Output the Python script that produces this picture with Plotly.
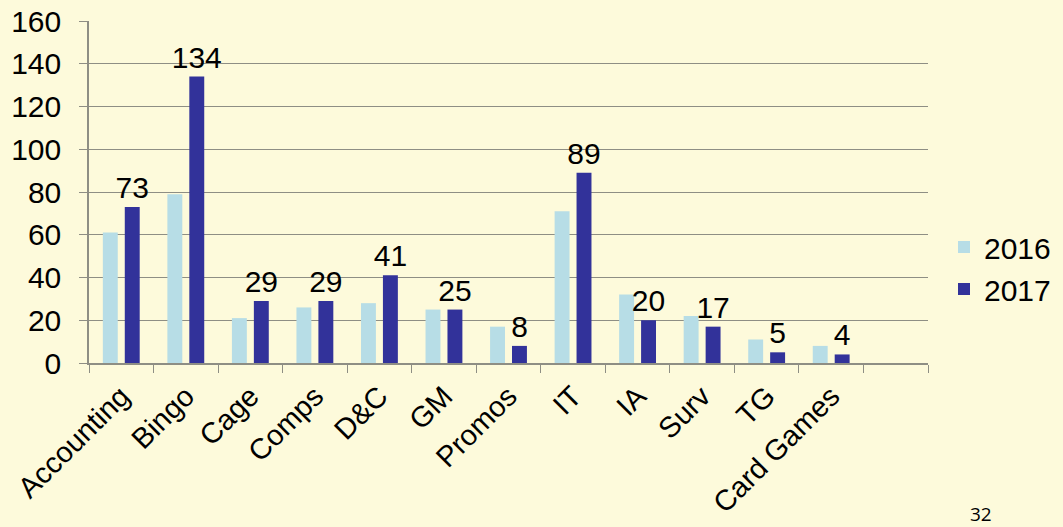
import plotly.graph_objects as go

categories = ["Accounting", "Bingo", "Cage", "Comps", "D&C", "GM", "Promos",
              "IT", "IA", "Surv", "TG", "Card Games", " "]
values_2016 = [61, 79, 21, 26, 28, 25, 17, 71, 32, 22, 11, 8, None]
values_2017 = [73, 134, 29, 29, 41, 25, 8, 89, 20, 17, 5, 4, None]
labels_2017 = [str(v) if v is not None else "" for v in values_2017]

FONT = "Liberation Sans, Arial, sans-serif"
BG = "#FDFADB"
GRID = "#8E8E84"
FS = 30

fig = go.Figure()
fig.add_trace(go.Bar(name="2016", x=categories, y=values_2016,
                     marker=dict(color="#B7DDE6", line=dict(width=0))))
fig.add_trace(go.Bar(name="2017", x=categories, y=values_2017,
                     marker=dict(color="#32329A", line=dict(width=0)),
                     text=labels_2017, textposition="outside", constraintext="none",
                     textfont=dict(size=FS, color="#000000", family=FONT),
                     cliponaxis=False))

plot_w = 1063 - 89 - 135
plot_h = 527 - 21 - 164

fig.update_layout(
    width=1063, height=527,
    paper_bgcolor=BG, plot_bgcolor=BG,
    barmode="group", bargap=0.32, bargroupgap=0.32,
    margin=dict(l=89, r=135, t=21, b=164, autoexpand=False),
    font=dict(family=FONT, size=FS, color="#000000"),
    showlegend=True,
    legend=dict(x=(944 - 89) / plot_w, y=(363 - 268) / plot_h, xanchor="left", yanchor="middle",
                bgcolor="rgba(0,0,0,0)", font=dict(size=FS), itemwidth=30),
    xaxis=dict(type="category", tickangle=-45, showgrid=False, automargin=False,
               showline=True, linecolor=GRID, linewidth=1.5,
               ticks="outside", tickson="boundaries", ticklen=8, tickcolor=GRID,
               ticklabelstandoff=3, tickfont=dict(size=29)),
    yaxis=dict(range=[0, 160], dtick=20, showgrid=True, gridcolor=GRID, gridwidth=1.2,
               showline=True, linecolor=GRID, linewidth=1.5, zeroline=False, automargin=False,
               ticks="outside", ticklen=8, tickcolor=GRID,
               ticklabelstandoff=12, tickfont=dict(size=FS)),
    annotations=[dict(text="32", x=(981 - 89) / plot_w, y=(363 - 514) / plot_h,
                      xref="paper", yref="paper", xanchor="center", yanchor="middle",
                      showarrow=False,
                      font=dict(size=19, family="Open Sans, sans-serif"))],
)

fig.write_html("out.html",
               config={"displayModeBar": False},
               post_script="document.body.style.margin='0';"
                           "document.body.style.background='#FDFADB';"
                           "document.body.style.overflow='hidden';")
